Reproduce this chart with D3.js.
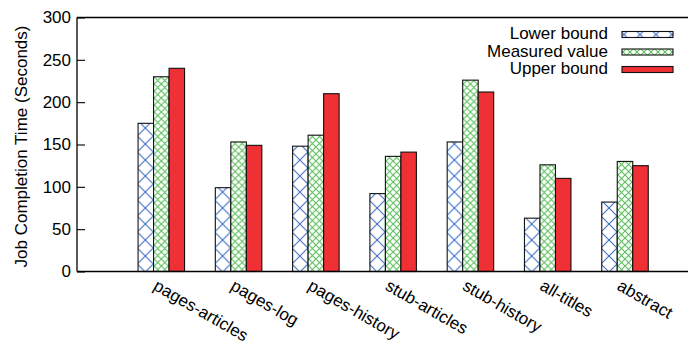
<!DOCTYPE html>
<html>
<head>
<meta charset="utf-8">
<script src="https://cdn.jsdelivr.net/npm/d3@7"></script>
<style>
  html, body { margin: 0; padding: 0; background: #fff; }
  svg { display: block; font-family: "Liberation Sans", Arial, Helvetica, sans-serif; }
</style>
</head>
<body>
<svg id="chart" width="688" height="346"></svg>
<script>
// Job completion times per dataset
const categories = ["pages-articles", "pages-log", "pages-history", "stub-articles", "stub-history", "all-titles", "abstract"];
const seriesNames = ["Lower bound", "Measured value", "Upper bound"];
const lowerBound = [175, 99, 148, 92, 153, 63, 82];
const measuredValue = [230, 153, 161, 136, 226, 126, 130];
const upperBound = [240, 149, 210, 141, 212, 110, 125];
const yTicks = [0, 50, 100, 150, 200, 250, 300];
const yTitle = "Job Completion Time (Seconds)";

const seriesValues = [lowerBound, measuredValue, upperBound];

const svg = d3.select("#chart");
const W = 688, H = 346;
const plot = { left: 77, top: 17.5, bottom: 271.5 };

const y = d3.scaleLinear().domain([0, 300]).range([plot.bottom, plot.top]);
const xGroup = d3.scalePoint().domain(categories).range([161.3, 625]);
const xSeries = d3.scaleBand().domain(seriesNames).range([-23.25, 23.25]).padding(0);

// fill patterns
const defs = svg.append("defs");
const blueHatch = defs.append("pattern")
  .attr("id", "hatchBlue").attr("patternUnits", "userSpaceOnUse")
  .attr("width", 16).attr("height", 16);
blueHatch.append("rect").attr("width", 16).attr("height", 16).attr("fill", "#fff");
blueHatch.append("path").attr("d", "M0,0L16,16M16,0L0,16")
  .attr("stroke", "#3d6fc6").attr("stroke-width", 1.1).attr("fill", "none");

const greenHatch = defs.append("pattern")
  .attr("id", "hatchGreen").attr("patternUnits", "userSpaceOnUse")
  .attr("width", 7).attr("height", 7);
greenHatch.append("rect").attr("width", 7).attr("height", 7).attr("fill", "#fff");
greenHatch.append("path").attr("d", "M0,0L7,7M7,0L0,7")
  .attr("stroke", "#5cbf5c").attr("stroke-width", 1.1).attr("fill", "none");

const fills = ["url(#hatchBlue)", "url(#hatchGreen)", "#ef3034"];

// bars
const groups = svg.append("g").selectAll("g")
  .data(categories)
  .join("g")
  .attr("transform", d => `translate(${xGroup(d)},0)`);

groups.selectAll("rect")
  .data((d, i) => seriesNames.map((s, k) => ({ s, k, v: seriesValues[k][i] })))
  .join("rect")
  .attr("x", d => xSeries(d.s))
  .attr("y", d => y(d.v))
  .attr("width", xSeries.bandwidth())
  .attr("height", d => y(0) - y(d.v))
  .attr("fill", d => fills[d.k])
  .attr("stroke", "#111")
  .attr("stroke-width", 1.1);

// frame: left, top, bottom
const frame = svg.append("g").attr("stroke", "#000").attr("stroke-width", 1.3).attr("fill", "none");
frame.append("line").attr("x1", plot.left).attr("x2", plot.left).attr("y1", plot.top).attr("y2", plot.bottom);
frame.append("line").attr("x1", plot.left).attr("x2", W).attr("y1", plot.top).attr("y2", plot.top);
frame.append("line").attr("x1", plot.left).attr("x2", W).attr("y1", plot.bottom).attr("y2", plot.bottom);

// y axis with inward ticks
const yAxis = d3.axisLeft(y).tickValues(yTicks).tickSize(-8).tickPadding(6).tickFormat(d3.format("d"));
const yg = svg.append("g").attr("transform", `translate(${plot.left},0)`).call(yAxis);
yg.select(".domain").remove();
yg.selectAll(".tick line").attr("stroke", "#000").attr("stroke-width", 1.1);
yg.selectAll(".tick text").attr("font-size", 17).attr("fill", "#000")
  .attr("font-family", "'Liberation Sans', Arial, sans-serif");

// y axis title
svg.append("text")
  .attr("transform", `translate(27,${(plot.top + plot.bottom) / 2 + 2}) rotate(-90)`)
  .attr("text-anchor", "middle")
  .attr("font-size", 17)
  .attr("fill", "#000")
  .text(yTitle);

// category labels, rotated
svg.append("g").selectAll("text")
  .data(categories)
  .join("text")
  .attr("transform", d => `translate(${xGroup(d) - 9},289) rotate(30)`)
  .attr("text-anchor", "start")
  .attr("font-size", 17)
  .attr("fill", "#000")
  .text(d => d);

// legend
const legend = svg.append("g");
const rowY = d3.scalePoint().domain(seriesNames).range([34.5, 69.5]);
const rows = legend.selectAll("g").data(seriesNames).join("g")
  .attr("transform", d => `translate(0,${rowY(d)})`);
rows.append("text")
  .attr("x", 608).attr("y", 4.5)
  .attr("text-anchor", "end")
  .attr("font-size", 17)
  .attr("fill", "#000")
  .text(d => d);
rows.append("rect")
  .attr("x", 622).attr("y", -3)
  .attr("width", 51).attr("height", 6)
  .attr("fill", (d, i) => fills[i])
  .attr("stroke", "#111").attr("stroke-width", 1.1);
</script>
</body>
</html>
